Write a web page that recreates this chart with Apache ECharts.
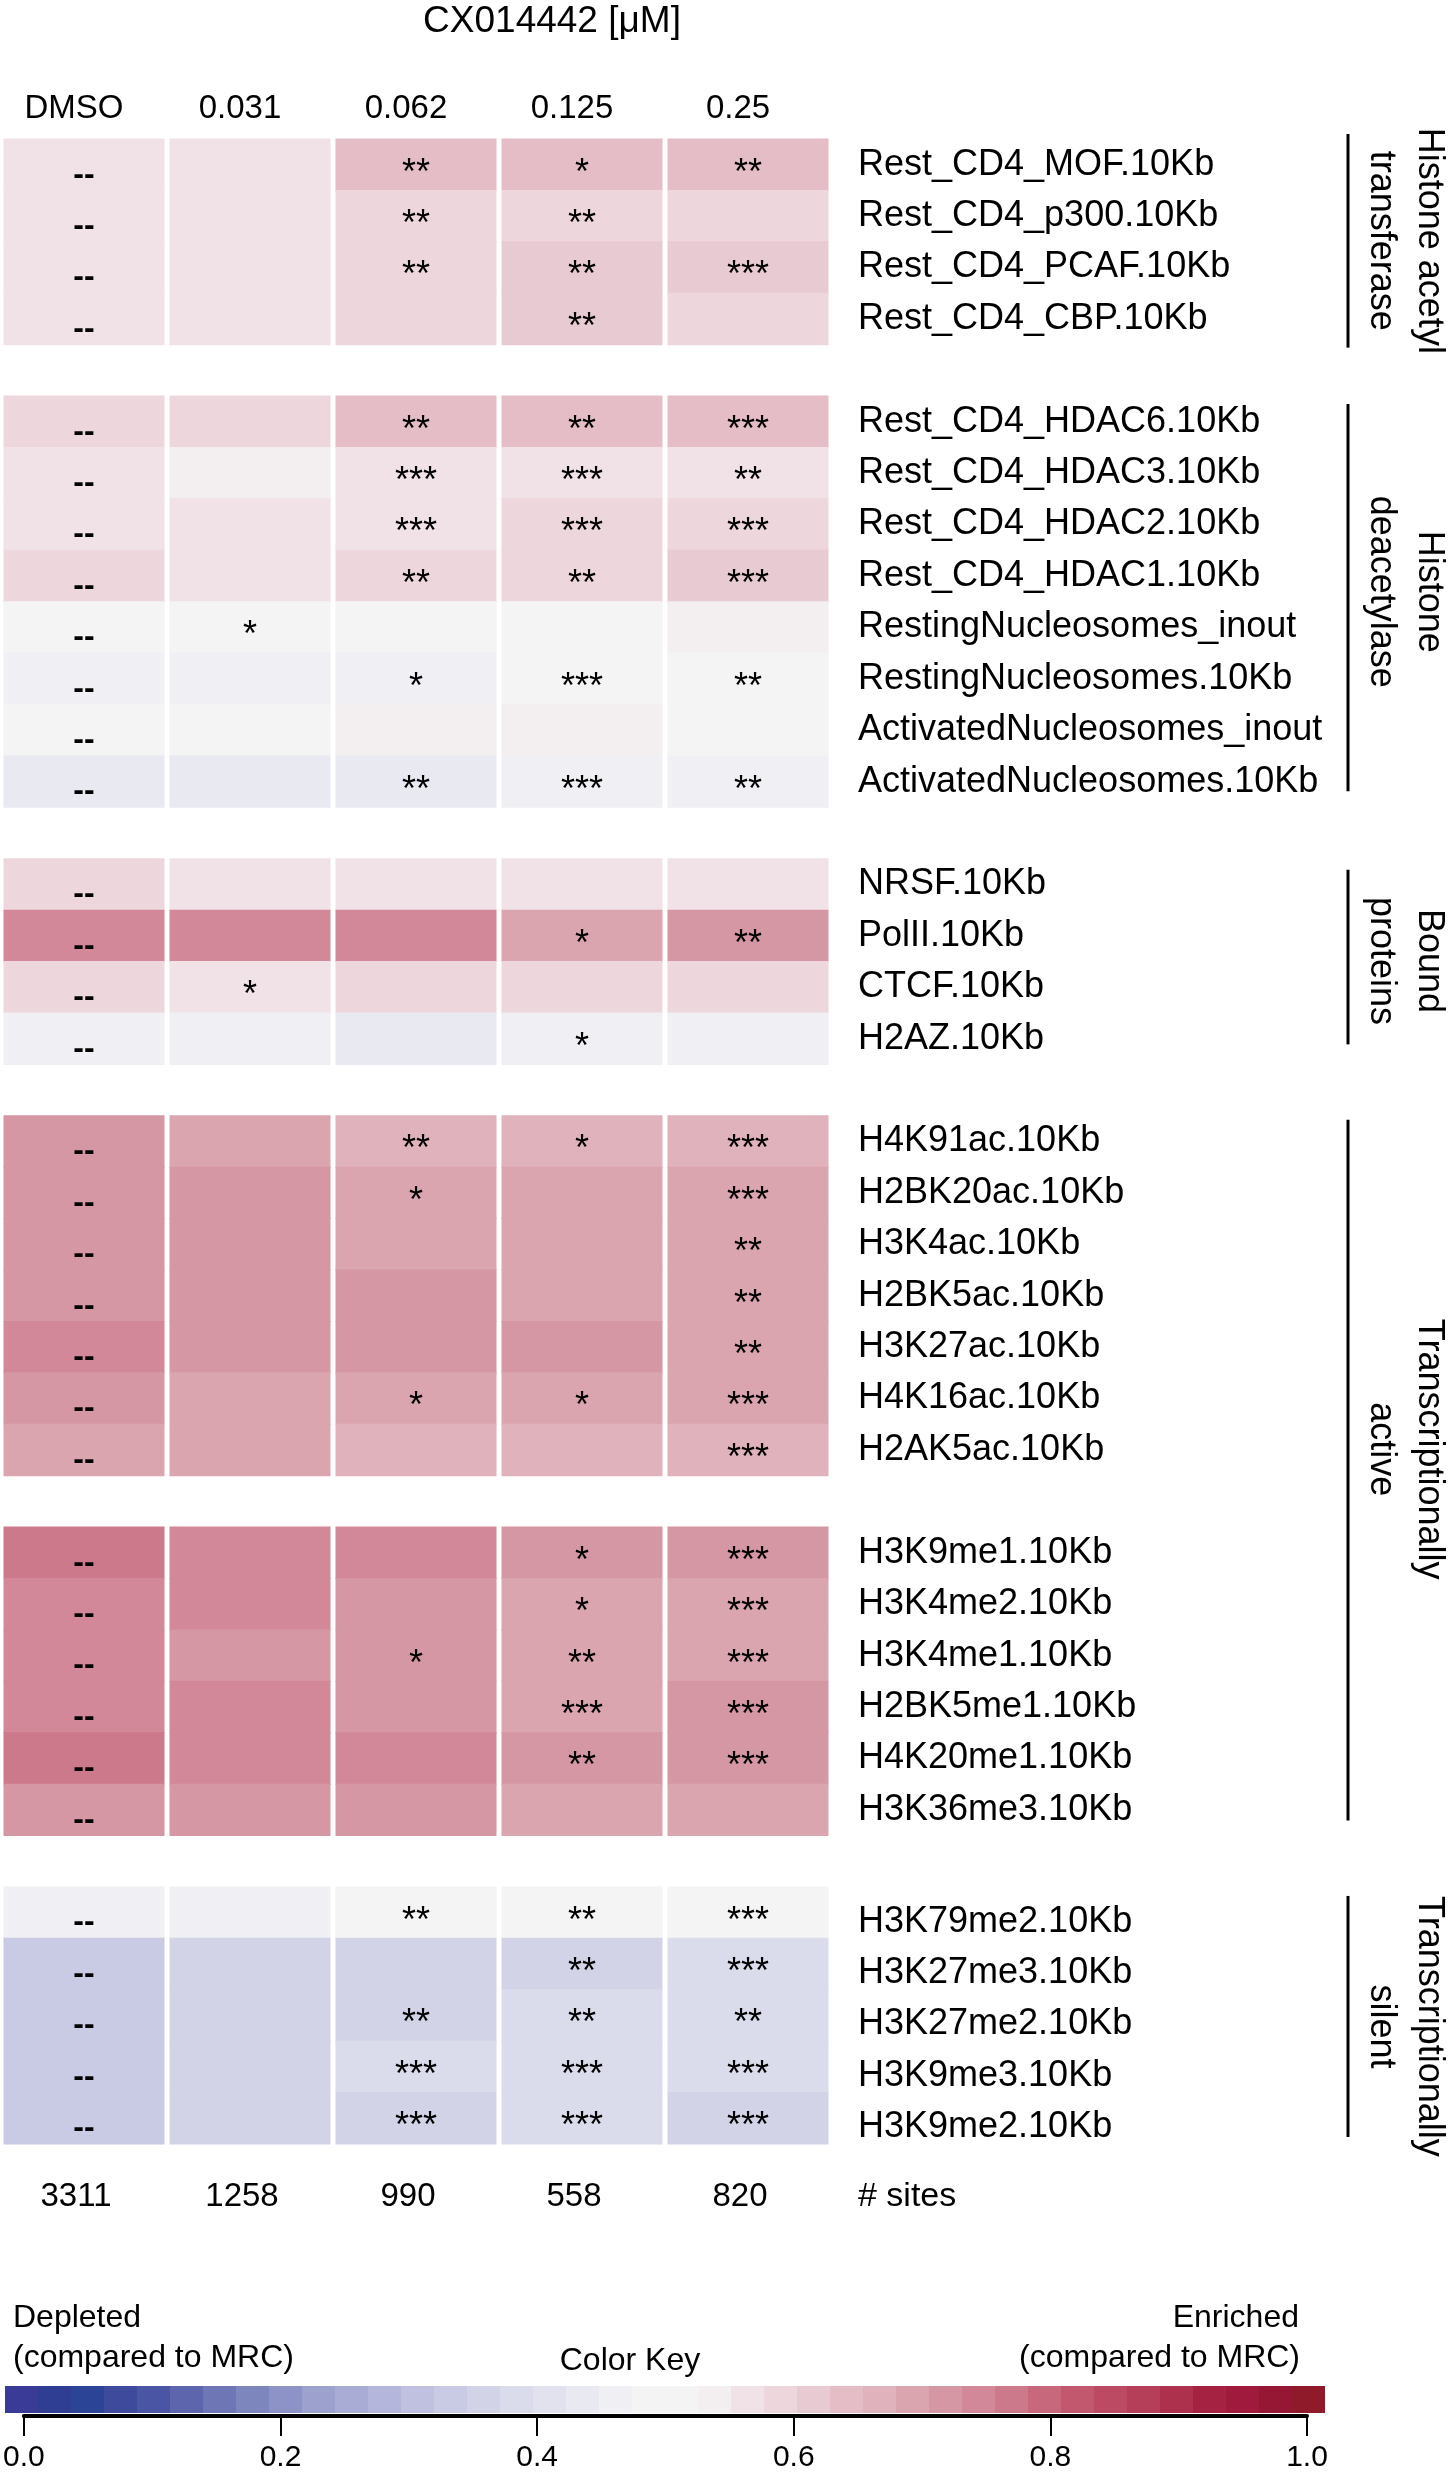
<!DOCTYPE html>
<html>
<head>
<meta charset="utf-8">
<title>CX014442 heatmap</title>
<script src="https://cdn.jsdelivr.net/npm/echarts@6/dist/echarts.min.js"></script>
<style>
  html, body { margin: 0; padding: 0; background: #fff; }
  #chart { width: 1448px; height: 2482px; }
</style>
</head>
<body>
<div id="chart"></div>
<script>
const fontFamily = '"Liberation Sans", Arial, Helvetica, sans-serif';

const doses = ["DMSO", "0.031", "0.062", "0.125", "0.25"];
const siteCounts = ["3311", "1258", "990", "558", "820"];

// histone acetyl transferase
const hatRows = ["Rest_CD4_MOF.10Kb", "Rest_CD4_p300.10Kb", "Rest_CD4_PCAF.10Kb", "Rest_CD4_CBP.10Kb"];
const hatValues = [
  [0.56, 0.56, 0.64, 0.64, 0.64],
  [0.56, 0.56, 0.59, 0.59, 0.59],
  [0.56, 0.56, 0.59, 0.61, 0.61],
  [0.56, 0.56, 0.59, 0.61, 0.59],
];
const hatMarks = [
  ["--", "", "**", "*", "**"],
  ["--", "", "**", "**", ""],
  ["--", "", "**", "**", "***"],
  ["--", "", "", "**", ""],
];

// histone deacetylase
const hdacRows = [
  "Rest_CD4_HDAC6.10Kb", "Rest_CD4_HDAC3.10Kb", "Rest_CD4_HDAC2.10Kb", "Rest_CD4_HDAC1.10Kb",
  "RestingNucleosomes_inout", "RestingNucleosomes.10Kb", "ActivatedNucleosomes_inout", "ActivatedNucleosomes.10Kb",
];
const hdacValues = [
  [0.59, 0.59, 0.64, 0.64, 0.64],
  [0.56, 0.54, 0.56, 0.56, 0.56],
  [0.56, 0.56, 0.56, 0.59, 0.59],
  [0.59, 0.56, 0.59, 0.59, 0.61],
  [0.49, 0.49, 0.49, 0.49, 0.54],
  [0.46, 0.46, 0.46, 0.49, 0.49],
  [0.49, 0.49, 0.54, 0.54, 0.49],
  [0.44, 0.44, 0.44, 0.46, 0.46],
];
const hdacMarks = [
  ["--", "", "**", "**", "***"],
  ["--", "", "***", "***", "**"],
  ["--", "", "***", "***", "***"],
  ["--", "", "**", "**", "***"],
  ["--", "*", "", "", ""],
  ["--", "", "*", "***", "**"],
  ["--", "", "", "", ""],
  ["--", "", "**", "***", "**"],
];

// bound proteins
const boundRows = ["NRSF.10Kb", "PolII.10Kb", "CTCF.10Kb", "H2AZ.10Kb"];
const boundValues = [
  [0.59, 0.56, 0.56, 0.56, 0.56],
  [0.74, 0.74, 0.74, 0.69, 0.71],
  [0.59, 0.56, 0.59, 0.59, 0.59],
  [0.46, 0.46, 0.44, 0.46, 0.46],
];
const boundMarks = [
  ["--", "", "", "", ""],
  ["--", "", "", "*", "**"],
  ["--", "*", "", "", ""],
  ["--", "", "", "*", ""],
];

// transcriptionally active: acetylation
const acRows = ["H4K91ac.10Kb", "H2BK20ac.10Kb", "H3K4ac.10Kb", "H2BK5ac.10Kb", "H3K27ac.10Kb", "H4K16ac.10Kb", "H2AK5ac.10Kb"];
const acValues = [
  [0.71, 0.69, 0.66, 0.66, 0.66],
  [0.71, 0.71, 0.69, 0.69, 0.69],
  [0.71, 0.71, 0.69, 0.69, 0.69],
  [0.71, 0.71, 0.71, 0.69, 0.69],
  [0.74, 0.71, 0.71, 0.71, 0.69],
  [0.71, 0.69, 0.69, 0.69, 0.69],
  [0.69, 0.69, 0.66, 0.66, 0.66],
];
const acMarks = [
  ["--", "", "**", "*", "***"],
  ["--", "", "*", "", "***"],
  ["--", "", "", "", "**"],
  ["--", "", "", "", "**"],
  ["--", "", "", "", "**"],
  ["--", "", "*", "*", "***"],
  ["--", "", "", "", "***"],
];

// transcriptionally active: methylation
const meRows = ["H3K9me1.10Kb", "H3K4me2.10Kb", "H3K4me1.10Kb", "H2BK5me1.10Kb", "H4K20me1.10Kb", "H3K36me3.10Kb"];
const meValues = [
  [0.76, 0.74, 0.74, 0.71, 0.71],
  [0.74, 0.74, 0.71, 0.69, 0.69],
  [0.74, 0.71, 0.71, 0.69, 0.69],
  [0.74, 0.74, 0.71, 0.69, 0.71],
  [0.76, 0.74, 0.74, 0.71, 0.71],
  [0.71, 0.71, 0.71, 0.69, 0.69],
];
const meMarks = [
  ["--", "", "", "*", "***"],
  ["--", "", "", "*", "***"],
  ["--", "", "*", "**", "***"],
  ["--", "", "", "***", "***"],
  ["--", "", "", "**", "***"],
  ["--", "", "", "", ""],
];

// transcriptionally silent
const silentRows = ["H3K79me2.10Kb", "H3K27me3.10Kb", "H3K27me2.10Kb", "H3K9me3.10Kb", "H3K9me2.10Kb"];
const silentValues = [
  [0.46, 0.46, 0.49, 0.49, 0.49],
  [0.34, 0.36, 0.36, 0.36, 0.39],
  [0.34, 0.36, 0.36, 0.39, 0.39],
  [0.34, 0.36, 0.39, 0.39, 0.39],
  [0.34, 0.36, 0.36, 0.39, 0.36],
];
const silentMarks = [
  ["--", "", "**", "**", "***"],
  ["--", "", "", "**", "***"],
  ["--", "", "**", "**", "**"],
  ["--", "", "***", "***", "***"],
  ["--", "", "***", "***", "***"],
];

// 40 colour key steps, depleted -> enriched
const keyColors = [
  "#3a3b97", "#2f3d93", "#2c4495", "#3e4a9c", "#4a55a3", "#5d66ad", "#6e76b5", "#7e86be",
  "#8d93c7", "#9ca1ce", "#a9acd5", "#b4b6db", "#c0c1e0", "#c9cae3", "#d2d3e7", "#dadbeb",
  "#e2e2ef", "#e9e9f2", "#efeff4", "#f4f4f4", "#f4f4f4", "#f3eef0", "#f0e2e6", "#edd7dc",
  "#e8cbd2", "#e4bdc6", "#e0b2bc", "#dba5b0", "#d697a4", "#d28898", "#cc798b", "#c7687c",
  "#c2586d", "#bc4a62", "#b53f58", "#ad314d", "#a62243", "#9f1a3c", "#961734", "#8e1a2a",
];

const blocks = [
  { rows: hatRows, values: hatValues, marks: hatMarks },
  { rows: hdacRows, values: hdacValues, marks: hdacMarks },
  { rows: boundRows, values: boundValues, marks: boundMarks },
  { rows: acRows, values: acValues, marks: acMarks },
  { rows: meRows, values: meValues, marks: meMarks },
  { rows: silentRows, values: silentValues, marks: silentMarks },
];

// from/to are block indices; pad/shift are pixel nudges for the bracket ends and side text
const brackets = [
  { text: "Histone acetyl\ntransferase", from: 0, to: 0, padTop: -5, padBottom: 3, shift: 0 },
  { text: "Histone\ndeacetylase", from: 1, to: 1, padTop: 8, padBottom: -16, shift: -6 },
  { text: "Bound\nproteins", from: 2, to: 2, padTop: 11, padBottom: -20, shift: 4 },
  { text: "Transcriptionally\nactive", from: 3, to: 4, padTop: 4, padBottom: -15, shift: -21 },
  { text: "Transcriptionally\nsilent", from: 5, to: 5, padTop: 9, padBottom: -7, shift: 10 },
];

// flatten blocks into one category axis, with an empty row between blocks
const rowNames = [];
const cellData = [];
const cellMarks = [];
const blockSpans = [];
blocks.forEach((block, b) => {
  if (b > 0) rowNames.push("");
  const first = rowNames.length;
  block.rows.forEach((name, r) => {
    const y = rowNames.length;
    rowNames.push(name);
    block.values[r].forEach((v, c) => {
      cellData.push([c, y, v]);
      cellMarks.push(block.marks[r][c]);
    });
  });
  blockSpans.push([first, rowNames.length - 1]);
});
const lastSpan = blockSpans[blockSpans.length - 1];

const chart = echarts.init(document.getElementById("chart"));

chart.setOption({
  animation: false,
  textStyle: { fontFamily: fontFamily },
  grid: [
    { left: 1, top: 139, width: 830, height: 2005 },
    { left: 23, top: 2380, width: 1284, height: 36 },
  ],
  xAxis: [
    {
      type: "category",
      data: doses,
      position: "top",
      gridIndex: 0,
      axisLine: { show: false },
      axisTick: { show: false },
      axisLabel: { interval: 0, fontSize: 33, color: "#000", margin: 14, padding: [0, 20, 0, 0] },
    },
    {
      type: "category",
      data: siteCounts,
      position: "bottom",
      gridIndex: 0,
      axisLine: { show: false },
      axisTick: { show: false },
      axisLabel: { interval: 0, fontSize: 33, color: "#000", margin: 36, padding: [0, 16, 0, 0] },
    },
    {
      type: "value",
      gridIndex: 1,
      min: 0,
      max: 1,
      interval: 0.2,
      position: "bottom",
      splitLine: { show: false },
      axisLine: { show: true, lineStyle: { color: "#000", width: 4 } },
      axisTick: { show: true, length: 20, lineStyle: { color: "#000", width: 2 } },
      axisLabel: { fontSize: 30, color: "#000", margin: 27, formatter: (v) => v.toFixed(1) },
    },
  ],
  yAxis: [
    {
      type: "category",
      data: rowNames,
      inverse: true,
      position: "right",
      gridIndex: 0,
      axisLine: { show: false },
      axisTick: { show: false },
      axisLabel: {
        interval: 0,
        fontSize: 36,
        color: "#000",
        margin: 27,
        // the silent block's labels sit a little low in the original
        formatter: (value, index) =>
          index >= lastSpan[0] && index <= lastSpan[1] ? "{low|" + value + "}" : value,
        rich: { low: { fontSize: 36, color: "#000", padding: [18, 0, 0, 0] } },
      },
    },
    { type: "value", gridIndex: 1, show: false },
  ],
  visualMap: {
    type: "piecewise",
    seriesIndex: 0,
    dimension: 2,
    min: 0,
    max: 1,
    splitNumber: 40,
    orient: "horizontal",
    left: 5,
    top: 2386,
    padding: 0,
    itemWidth: 33,
    itemHeight: 27,
    itemGap: 0,
    itemSymbol: "rect",
    showLabel: false,
    selectedMode: false,
    hoverLink: false,
    inRange: { color: keyColors },
  },
  series: [
    {
      type: "custom",
      xAxisIndex: 0,
      yAxisIndex: 0,
      encode: { x: 0, y: 1 },
      data: cellData,
      renderItem: (params, api) => {
        const c = api.coord([api.value(0), api.value(1)]);
        const s = api.size([1, 1]);
        const w = s[0] - 5;
        const h = s[1] + 1;
        const mark = cellMarks[params.dataIndex];
        const children = [
          {
            type: "rect",
            shape: { x: c[0] - w / 2, y: c[1] - h / 2, width: w, height: h },
            style: { fill: api.visual("color") },
          },
        ];
        if (mark) {
          const dash = mark === "--";
          children.push({
            type: "text",
            x: c[0],
            y: c[1] + (dash ? 10 : 9),
            style: {
              text: mark,
              fill: "#000",
              font: (dash ? "bold 32px " : "36px ") + fontFamily,
              align: "center",
              verticalAlign: "middle",
            },
          });
        }
        return { type: "group", children: children };
      },
    },
  ],
});

// group brackets and side labels, placed from the row axis
const rowStep = chart.convertToPixel({ yAxisIndex: 0 }, 1) - chart.convertToPixel({ yAxisIndex: 0 }, 0);
const bracketX = 1348;
const graphics = [];
brackets.forEach((br) => {
  const y1 = chart.convertToPixel({ yAxisIndex: 0 }, blockSpans[br.from][0]) - rowStep / 2 + br.padTop;
  const y2 = chart.convertToPixel({ yAxisIndex: 0 }, blockSpans[br.to][1]) + rowStep / 2 + br.padBottom;
  graphics.push({
    type: "line",
    shape: { x1: bracketX, y1: y1, x2: bracketX, y2: y2 },
    style: { stroke: "#000", lineWidth: 3 },
  });
  graphics.push({
    type: "text",
    x: 1405,
    y: (y1 + y2) / 2 + br.shift,
    rotation: -Math.PI / 2,
    style: {
      text: br.text,
      fill: "#000",
      font: "36px " + fontFamily,
      lineHeight: 48,
      align: "center",
      verticalAlign: "middle",
    },
  });
});

const plainText = (text, x, y, size, align) => ({
  type: "text",
  x: x,
  y: y,
  style: { text: text, fill: "#000", font: size + "px " + fontFamily, align: align, verticalAlign: "middle" },
});

graphics.push(plainText("CX014442 [μM]", 552, 22, 37, "center"));
graphics.push(plainText("# sites", 858, 2197, 34, "left"));
graphics.push(plainText("Depleted", 13, 2318, 32, "left"));
graphics.push(plainText("(compared to MRC)", 13, 2358, 32, "left"));
graphics.push(plainText("Color Key", 630, 2361, 32, "center"));
graphics.push(plainText("Enriched", 1299, 2318, 32, "right"));
graphics.push(plainText("(compared to MRC)", 1300, 2358, 32, "right"));

chart.setOption({ graphic: graphics });
</script>
</body>
</html>
